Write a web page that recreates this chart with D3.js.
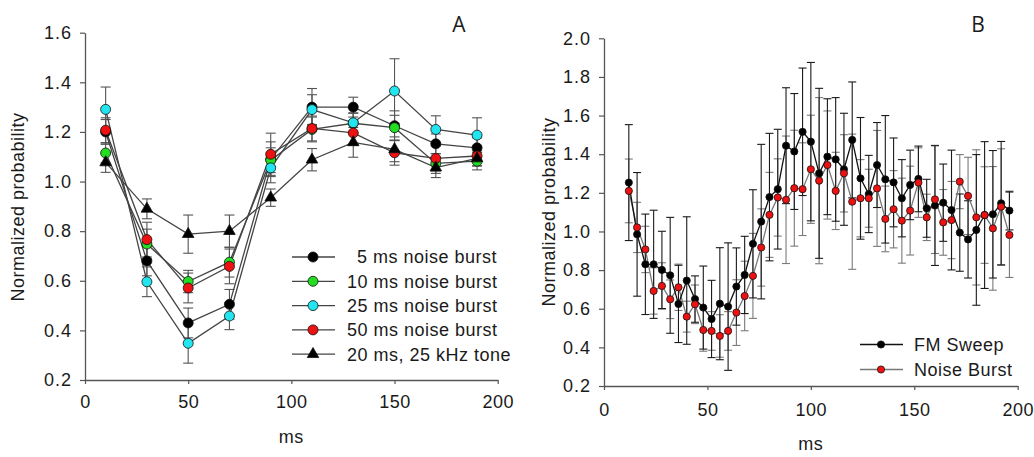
<!DOCTYPE html>
<html>
<head>
<meta charset="utf-8">
<script src="https://cdn.jsdelivr.net/npm/d3@7"></script>
<style>
  body { margin: 0; background: #fff; }
  text { font-family: "Liberation Sans", Arial, sans-serif; fill: #1a1a1a; letter-spacing: 0.5px; }
  .panel-label { font-family: "Open Sans", sans-serif; letter-spacing: 0; }
</style>
</head>
<body>
<svg width="1034" height="457"></svg>
<script>
// ---- panel A data ----
var msA = [10, 30, 50, 70, 90, 110, 130, 150, 170, 190]
var nb5 = [1.20, 0.68, 0.43, 0.505, 1.09, 1.30, 1.30, 1.225, 1.152, 1.136]
var nb5Err = [0.05, 0.06, 0.06, 0.06, 0.07, 0.075, 0.04, 0.06, 0.04, 0.04]
var nb10 = [1.115, 0.748, 0.597, 0.675, 1.086, 1.21, 1.235, 1.217, 1.073, 1.082]
var nb10Err = [0.04, 0.06, 0.045, 0.06, 0.05, 0.05, 0.04, 0.05, 0.04, 0.035]
var nb25 = [1.291, 0.596, 0.348, 0.458, 1.055, 1.29, 1.237, 1.365, 1.21, 1.187]
var nb25Err = [0.09, 0.06, 0.08, 0.055, 0.06, 0.06, 0.04, 0.13, 0.055, 0.07]
var nb50 = [1.207, 0.766, 0.571, 0.658, 1.11, 1.214, 1.196, 1.116, 1.093, 1.103]
var nb50Err = [0.05, 0.07, 0.06, 0.07, 0.085, 0.05, 0.05, 0.05, 0.05, 0.04]
var tone = [1.077, 0.89, 0.788, 0.80, 0.935, 1.088, 1.158, 1.13, 1.056, 1.093]
var toneErr = [0.04, 0.04, 0.077, 0.065, 0.035, 0.045, 0.06, 0.05, 0.04, 0.03]
var legendA = ["5 ms noise burst", "10 ms noise burst", "25 ms noise burst", "50 ms noise burst", "20 ms, 25 kHz tone"]

// ---- panel B data ----
var msB = [12, 16, 20, 24, 28, 32, 36, 40, 44, 48, 52, 56, 60, 64, 68, 72, 76, 80, 84, 88, 92, 96, 100, 104,
  108, 112, 116, 120, 124, 128, 132, 136, 140, 144, 148, 152, 156, 160, 164, 168, 172, 176, 180, 184, 188, 192, 196]
var fm = [1.253, 0.985, 0.830, 0.830, 0.801, 0.773, 0.625, 0.746, 0.65, 0.606, 0.547, 0.626, 0.611, 0.715, 0.775, 0.936,
  1.051, 1.178, 1.219, 1.444, 1.414, 1.516, 1.465, 1.301, 1.387, 1.373, 1.322, 1.474, 1.275, 1.194, 1.344, 1.270,
  1.254, 1.172, 1.241, 1.272, 1.120, 1.134, 1.149, 1.111, 0.994, 0.959, 1.008, 1.085, 1.089, 1.146, 1.108]
var fmErr = [0.30, 0.32, 0.26, 0.28, 0.20, 0.30, 0.20, 0.33, 0.12, 0.215, 0.20, 0.29, 0.33, 0.20, 0.20, 0.28,
  0.40, 0.33, 0.31, 0.30, 0.30, 0.33, 0.41, 0.44, 0.30, 0.32, 0.29, 0.30, 0.315, 0.20, 0.22, 0.33,
  0.23, 0.20, 0.18, 0.17, 0.15, 0.31, 0.20, 0.31, 0.20, 0.20, 0.39, 0.38, 0.33, 0.32, 0.10]
var noise = [1.210, 1.021, 0.907, 0.692, 0.718, 0.649, 0.711, 0.559, 0.623, 0.490, 0.485, 0.459, 0.485, 0.580, 0.666, 0.770,
  0.917, 1.086, 1.176, 1.164, 1.224, 1.219, 1.322, 1.263, 1.344, 1.210, 1.301, 1.154, 1.172, 1.172, 1.223, 1.065,
  1.115, 1.056, 1.108, 1.253, 1.073, 1.166, 1.047, 1.059, 1.258, 1.184, 1.073, 1.085, 1.016, 1.128, 0.982]
var noiseErr = [0.165, 0.13, 0.12, 0.12, 0.12, 0.10, 0.12, 0.08, 0.10, 0.11, 0.10, 0.11, 0.10, 0.17, 0.18, 0.22,
  0.20, 0.22, 0.20, 0.33, 0.30, 0.24, 0.28, 0.43, 0.28, 0.20, 0.20, 0.35, 0.20, 0.15, 0.30, 0.17,
  0.20, 0.22, 0.23, 0.18, 0.12, 0.28, 0.17, 0.20, 0.14, 0.20, 0.35, 0.25, 0.32, 0.30, 0.22]
var legendB = ["FM Sweep", "Noise Burst"]

var ticksA = [0.2, 0.4, 0.6, 0.8, 1.0, 1.2, 1.4, 1.6]
var ticksB = [0.2, 0.4, 0.6, 0.8, 1.0, 1.2, 1.4, 1.6, 1.8, 2.0]
var ticksX = [0, 50, 100, 150, 200]

var svg = d3.select("svg")
var AXIS = "#555"
var FONT = 18

function drawAxes(x, y, yTicks, opt) {
  var gx = svg.append("g")
      .attr("transform", "translate(0," + y.range()[0] + ")")
      .call(d3.axisBottom(x).tickValues(ticksX).tickSize(4).tickSizeOuter(0).tickPadding(opt.xPad))
  var gy = svg.append("g")
      .attr("transform", "translate(" + x.range()[0] + ",0)")
      .call(d3.axisLeft(y).tickValues(yTicks).tickFormat(d3.format(".1f")).tickSize(5).tickSizeOuter(0).tickPadding(8))
  ;[gx, gy].forEach(function(g) {
    g.select(".domain").attr("stroke", AXIS).attr("stroke-width", 1.3)
    g.selectAll(".tick line").attr("stroke", AXIS).attr("stroke-width", 1.2)
    g.selectAll(".tick text").attr("font-size", FONT).attr("fill", "#1a1a1a")
      .style("font-family", '"Liberation Sans", Arial, sans-serif')
  })
  gy.selectAll(".tick text").style("letter-spacing", "1px")
  svg.append("text")
      .attr("x", (x.range()[0] + x.range()[1]) / 2)
      .attr("y", opt.msY)
      .attr("text-anchor", "middle")
      .attr("font-size", FONT)
      .text("ms")
  svg.append("text")
      .attr("transform", "translate(" + opt.labX + "," + opt.labY + ") rotate(-90)")
      .attr("text-anchor", "middle")
      .attr("font-size", FONT)
      .text("Normalized probability")
  svg.append("text")
      .attr("class", "panel-label")
      .attr("x", opt.nameX)
      .attr("y", 32)
      .attr("text-anchor", "middle")
      .attr("font-size", 21)
      .text(opt.name)
}

function errorBars(x, y, xs, vals, errs, color, cap) {
  var g = svg.append("g").attr("stroke", color).attr("stroke-width", 1.1)
  xs.forEach(function(d, i) {
    var cx = x(d), top = y(vals[i] + errs[i]), bot = y(vals[i] - errs[i])
    g.append("line").attr("x1", cx).attr("x2", cx).attr("y1", top).attr("y2", bot)
    g.append("line").attr("x1", cx - cap).attr("x2", cx + cap).attr("y1", top).attr("y2", top)
    g.append("line").attr("x1", cx - cap).attr("x2", cx + cap).attr("y1", bot).attr("y2", bot)
  })
}

function seriesLine(x, y, xs, vals, color) {
  var line = d3.line().x(function(d, i) { return x(xs[i]) }).y(function(d) { return y(d) })
  svg.append("path").datum(vals)
      .attr("d", line)
      .attr("fill", "none")
      .attr("stroke", color)
      .attr("stroke-width", 1.3)
}

function symbolPath(shape, r) {
  return d3.symbol()
      .type(shape === "triangle" ? d3.symbolTriangle : d3.symbolCircle)
      .size(shape === "triangle" ? 58 : Math.PI * r * r)()
}

function markers(x, y, xs, vals, fill, r, shape) {
  var g = svg.append("g")
  vals.forEach(function(v, i) {
    g.append("path")
        .attr("d", symbolPath(shape, r))
        .attr("transform", "translate(" + x(xs[i]) + "," + y(v) + ")")
        .attr("fill", fill)
        .attr("stroke", "#111")
        .attr("stroke-width", 0.8)
  })
}

// ---------- panel A ----------
var xA = d3.scaleLinear().domain([0, 200]).range([85, 497.7])
var yA = d3.scaleLinear().domain([0.2, 1.6]).range([380, 32.7])
drawAxes(xA, yA, ticksA, { msY: 443, labX: 24, labY: 207, nameX: 459, name: "A", xPad: 11 })

var seriesA = [
  { vals: nb5, err: nb5Err, fill: "#000000", shape: "circle" },
  { vals: nb10, err: nb10Err, fill: "#22dd22", shape: "circle" },
  { vals: nb25, err: nb25Err, fill: "#22e5f0", shape: "circle" },
  { vals: nb50, err: nb50Err, fill: "#ee1111", shape: "circle" },
  { vals: tone, err: toneErr, fill: "#000000", shape: "triangle" }
]
seriesA.forEach(function(s) { errorBars(xA, yA, msA, s.vals, s.err, "#555", 5) })
seriesA.forEach(function(s) { seriesLine(xA, yA, msA, s.vals, "#444") })
seriesA.forEach(function(s) { markers(xA, yA, msA, s.vals, s.fill, 5, s.shape) })

// legend A
var legA = svg.append("g")
legendA.forEach(function(label, i) {
  var ly = 257 + i * 24.3
  var s = seriesA[i]
  legA.append("line").attr("x1", 292).attr("x2", 335).attr("y1", ly).attr("y2", ly)
      .attr("stroke", "#444").attr("stroke-width", 1.3)
  legA.append("path").attr("d", symbolPath(s.shape, 5)).attr("transform", "translate(313," + ly + ")")
      .attr("fill", s.fill).attr("stroke", "#111").attr("stroke-width", 0.8)
  legA.append("text")
      .attr("x", i === 0 ? 357 : 347)
      .attr("y", ly)
      .attr("dy", "0.36em")
      .attr("font-size", 18)
      .text(label)
})

// ---------- panel B ----------
var xB = d3.scaleLinear().domain([0, 200]).range([604, 1017.7])
var yB = d3.scaleLinear().domain([0.2, 2.0]).range([386, 38.3])
drawAxes(xB, yB, ticksB, { msY: 450, labX: 555, labY: 212, nameX: 978, name: "B", xPad: 13 })

errorBars(xB, yB, msB, noise, noiseErr, "#7a7a7a", 4)
errorBars(xB, yB, msB, fm, fmErr, "#1a1a1a", 4)
seriesLine(xB, yB, msB, noise, "#777")
seriesLine(xB, yB, msB, fm, "#111")
markers(xB, yB, msB, fm, "#000", 3.6, "circle")
markers(xB, yB, msB, noise, "#ee1111", 3.6, "circle")

// legend B
var legB = svg.append("g")
legendB.forEach(function(label, i) {
  var ly = 344.5 + i * 25
  legB.append("line").attr("x1", 860).attr("x2", 903).attr("y1", ly).attr("y2", ly)
      .attr("stroke", i === 0 ? "#111" : "#777").attr("stroke-width", 1.3)
  legB.append("circle").attr("cx", 881).attr("cy", ly).attr("r", 3.6)
      .attr("fill", i === 0 ? "#000" : "#ee1111").attr("stroke", "#111").attr("stroke-width", 0.8)
  legB.append("text")
      .attr("x", 914)
      .attr("y", ly)
      .attr("dy", "0.36em")
      .attr("font-size", 18)
      .text(label)
})
</script>
</body>
</html>
